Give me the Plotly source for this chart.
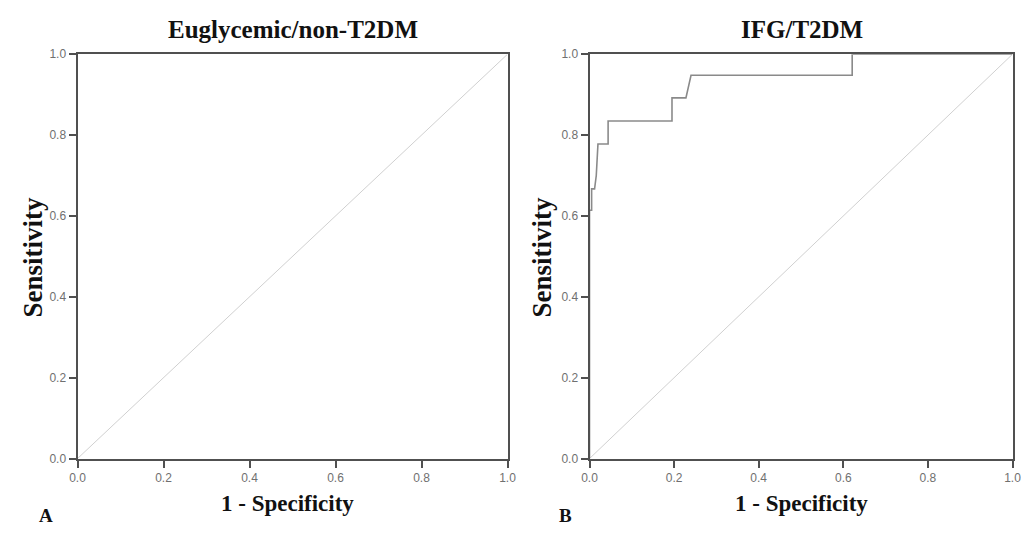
import plotly.graph_objects as go

# ---- data ----
panel_titles = ["Euglycemic/non-T2DM", "IFG/T2DM"]
panel_letters = ["A", "B"]
x_title = "1 - Specificity"
y_title = "Sensitivity"
tick_vals = [0.0, 0.2, 0.4, 0.6, 0.8, 1.0]
tick_text = ["0.0", "0.2", "0.4", "0.6", "0.8", "1.0"]

ref_x = [0.0, 1.0]
ref_y = [0.0, 1.0]

# ROC curve for IFG/T2DM (1 - specificity, sensitivity)
roc_fpr = [0.0, 0.0, 0.005, 0.005, 0.012, 0.016, 0.02, 0.044, 0.044, 0.195, 0.195,
           0.228, 0.24, 0.621, 0.621, 1.0]
roc_tpr = [0.0, 0.614, 0.614, 0.667, 0.667, 0.70, 0.778, 0.778, 0.835, 0.835, 0.892,
           0.892, 0.948, 0.948, 1.0, 1.0]

FRAME = "#505050"
TICKC = "#707070"
SERIF = "Liberation Serif, Times New Roman, serif"
SANS = "Liberation Sans, Arial, sans-serif"

# screen pixel -> paper fraction (empirical page mapping)
def fx(px):
    return (px - 15.5) / 1012.0

def fy(py):
    return 1 - (py - 12.5) / 535.5

fig = go.Figure()

fig.add_trace(go.Scatter(x=ref_x, y=ref_y, mode="lines", xaxis="x", yaxis="y",
                         line=dict(color="#d0d0d0", width=1), hoverinfo="skip",
                         showlegend=False))
fig.add_trace(go.Scatter(x=ref_x, y=ref_y, mode="lines", xaxis="x2", yaxis="y2",
                         line=dict(color="#d0d0d0", width=1), hoverinfo="skip",
                         showlegend=False))
fig.add_trace(go.Scatter(x=roc_fpr, y=roc_tpr, mode="lines", xaxis="x2", yaxis="y2",
                         line=dict(color="#8a8a8a", width=1.6), showlegend=False))

y_dom = [fy(459), fy(52)]
x_doms = [[fx(77), fx(507)], [fx(589), fx(1012)]]

def axis_common():
    return dict(range=[0, 1], tickvals=tick_vals, ticktext=tick_text,
                ticks="outside", ticklen=7, tickwidth=2, tickcolor=FRAME,
                showline=True, linecolor=FRAME, linewidth=2, mirror=True,
                showgrid=False, zeroline=False,
                tickfont=dict(family=SANS, size=12, color=TICKC))

def xax(dom, anchor):
    d = axis_common()
    d.update(domain=dom, anchor=anchor)
    return d

def yax(anchor):
    d = axis_common()
    d.update(domain=y_dom, anchor=anchor)
    return d

annotations = []
title_cx = [292, 801]
xtitle_cx = [287, 801]
ytitle_cx = [32, 541]
letter_cx = [45, 565]
for i in range(2):
    annotations.append(dict(text="<b>%s</b>" % panel_titles[i], x=fx(title_cx[i]), y=1.0,
                            xref="paper", yref="paper", showarrow=False,
                            xanchor="center", yanchor="top", borderpad=0,
                            font=dict(family=SERIF, size=25, color="#111")))
    annotations.append(dict(text="<b>%s</b>" % x_title, x=fx(xtitle_cx[i]), y=fy(504),
                            xref="paper", yref="paper", showarrow=False,
                            xanchor="center", yanchor="middle",
                            font=dict(family=SERIF, size=23, color="#111")))
    annotations.append(dict(text="<b>%s</b>" % y_title, x=fx(ytitle_cx[i]), y=fy(256),
                            xref="paper", yref="paper", showarrow=False,
                            xanchor="center", yanchor="middle", textangle=-90,
                            borderpad=0,
                            font=dict(family=SERIF, size=27, color="#111")))
    annotations.append(dict(text="<b>%s</b>" % panel_letters[i], x=fx(letter_cx[i]),
                            y=fy(516), xref="paper", yref="paper", showarrow=False,
                            xanchor="center", yanchor="middle",
                            font=dict(family=SERIF, size=19, color="#111")))

fig.update_layout(
    width=1029, height=546,
    margin=dict(l=0, r=0, t=0, b=0),
    paper_bgcolor="white", plot_bgcolor="white",
    xaxis=xax(x_doms[0], "y"), yaxis=yax("x"),
    xaxis2=xax(x_doms[1], "y2"), yaxis2=yax("x2"),
    annotations=annotations,
    showlegend=False,
)

fig.write_html("out.html")
